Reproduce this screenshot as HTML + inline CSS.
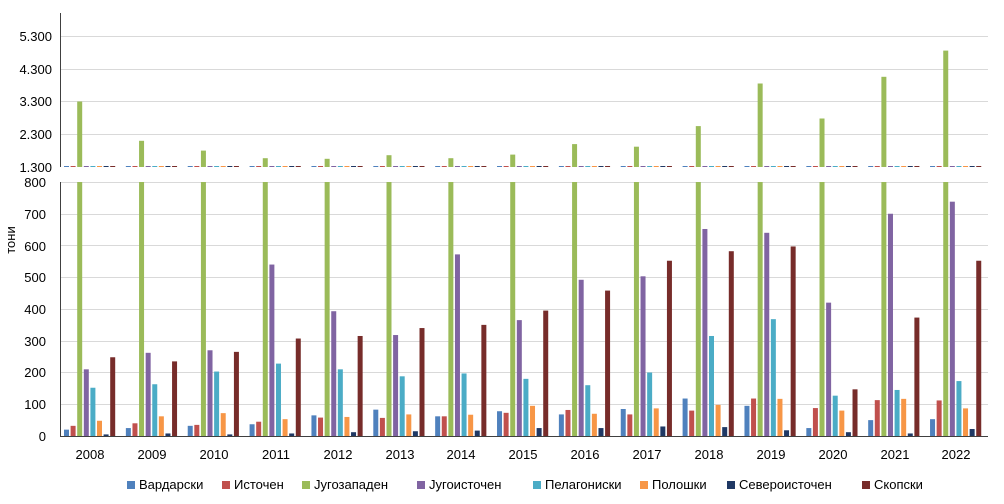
<!DOCTYPE html>
<html><head><meta charset="utf-8"><style>
body{margin:0;background:#fff;}
svg{display:block;font-family:"Liberation Sans","DejaVu Sans",sans-serif;}
.a{fill:#4f81bd}.b{fill:#c0504d}.c{fill:#9bbb59}.d{fill:#8064a2}.e{fill:#4bacc6}.f{fill:#f79646}.g{fill:#1f3864}.h{fill:#772c2a}
</style></head><body>
<svg width="1004" height="504" viewBox="0 0 1004 504">
<defs>
<g id="stub">
<rect x="0" y="166" width="5" height="1" class="a"/><rect x="6.6" y="166" width="5" height="1" class="b"/>
<rect x="19.8" y="166" width="5" height="1" class="d"/><rect x="26.4" y="166" width="5" height="1" class="e"/>
<rect x="33" y="166" width="5" height="1" class="f"/><rect x="39.6" y="166" width="5" height="1" class="g"/>
<rect x="46.2" y="166" width="5" height="1" class="h"/>
</g>
</defs>
<g stroke="#d9d9d9" stroke-width="1">
<line x1="61" x2="988" y1="36.5" y2="36.5"/><line x1="61" x2="988" y1="69.5" y2="69.5"/>
<line x1="61" x2="988" y1="101.5" y2="101.5"/><line x1="61" x2="988" y1="134.5" y2="134.5"/>
<line x1="61" x2="988" y1="404.5" y2="404.5"/><line x1="61" x2="988" y1="372.5" y2="372.5"/>
<line x1="61" x2="988" y1="341.5" y2="341.5"/><line x1="61" x2="988" y1="309.5" y2="309.5"/>
<line x1="61" x2="988" y1="277.5" y2="277.5"/><line x1="61" x2="988" y1="245.5" y2="245.5"/>
<line x1="61" x2="988" y1="214.5" y2="214.5"/><line x1="61" x2="988" y1="182.5" y2="182.5"/>
</g>

<use href="#stub" x="64"/><use href="#stub" x="125.86"/><use href="#stub" x="187.72"/><use href="#stub" x="249.58"/>
<use href="#stub" x="311.44"/><use href="#stub" x="373.3"/><use href="#stub" x="435.16"/><use href="#stub" x="497.02"/>
<use href="#stub" x="558.88"/><use href="#stub" x="620.74"/><use href="#stub" x="682.6"/><use href="#stub" x="744.46"/>
<use href="#stub" x="806.32"/><use href="#stub" x="868.18"/><use href="#stub" x="930.04"/>
<g class="c">
<rect x="77.2" y="101.5" width="5" height="65.5"/>
<rect x="139.06" y="140.8" width="5" height="26.2"/>
<rect x="200.92" y="150.6" width="5" height="16.4"/>
<rect x="262.78" y="158.2" width="5" height="8.8"/>
<rect x="324.64" y="158.8" width="5" height="8.2"/>
<rect x="386.5" y="155.2" width="5" height="11.8"/>
<rect x="448.36" y="158.2" width="5" height="8.8"/>
<rect x="510.22" y="154.6" width="5" height="12.4"/>
<rect x="572.08" y="144.1" width="5" height="22.9"/>
<rect x="633.94" y="146.7" width="5" height="20.3"/>
<rect x="695.8" y="126.1" width="5" height="40.9"/>
<rect x="757.66" y="83.5" width="5" height="83.5"/>
<rect x="819.52" y="118.5" width="5" height="48.5"/>
<rect x="881.38" y="76.8" width="5" height="90.2"/>
<rect x="943.24" y="50.6" width="5" height="116.4"/>
</g>

<g transform="translate(64,436) scale(1,-0.3175)"><rect x="0" width="5" height="20" class="a"/><rect x="6.6" width="5" height="32" class="b"/><rect x="13.2" width="5" height="800" class="c"/><rect x="19.8" width="5" height="210" class="d"/><rect x="26.4" width="5" height="152" class="e"/><rect x="33" width="5" height="48" class="f"/><rect x="39.6" width="5" height="5" class="g"/><rect x="46.2" width="5" height="248" class="h"/></g>
<g transform="translate(125.86,436) scale(1,-0.3175)"><rect x="0" width="5" height="25" class="a"/><rect x="6.6" width="5" height="40" class="b"/><rect x="13.2" width="5" height="800" class="c"/><rect x="19.8" width="5" height="262" class="d"/><rect x="26.4" width="5" height="163" class="e"/><rect x="33" width="5" height="62" class="f"/><rect x="39.6" width="5" height="8" class="g"/><rect x="46.2" width="5" height="235" class="h"/></g>
<g transform="translate(187.72,436) scale(1,-0.3175)"><rect x="0" width="5" height="32" class="a"/><rect x="6.6" width="5" height="35" class="b"/><rect x="13.2" width="5" height="800" class="c"/><rect x="19.8" width="5" height="270" class="d"/><rect x="26.4" width="5" height="203" class="e"/><rect x="33" width="5" height="72" class="f"/><rect x="39.6" width="5" height="5" class="g"/><rect x="46.2" width="5" height="265" class="h"/></g>
<g transform="translate(249.58,436) scale(1,-0.3175)"><rect x="0" width="5" height="37" class="a"/><rect x="6.6" width="5" height="45" class="b"/><rect x="13.2" width="5" height="800" class="c"/><rect x="19.8" width="5" height="540" class="d"/><rect x="26.4" width="5" height="228" class="e"/><rect x="33" width="5" height="53" class="f"/><rect x="39.6" width="5" height="8" class="g"/><rect x="46.2" width="5" height="307" class="h"/></g>
<g transform="translate(311.44,436) scale(1,-0.3175)"><rect x="0" width="5" height="65" class="a"/><rect x="6.6" width="5" height="58" class="b"/><rect x="13.2" width="5" height="800" class="c"/><rect x="19.8" width="5" height="393" class="d"/><rect x="26.4" width="5" height="210" class="e"/><rect x="33" width="5" height="60" class="f"/><rect x="39.6" width="5" height="12" class="g"/><rect x="46.2" width="5" height="315" class="h"/></g>
<g transform="translate(373.3,436) scale(1,-0.3175)"><rect x="0" width="5" height="83" class="a"/><rect x="6.6" width="5" height="57" class="b"/><rect x="13.2" width="5" height="800" class="c"/><rect x="19.8" width="5" height="318" class="d"/><rect x="26.4" width="5" height="188" class="e"/><rect x="33" width="5" height="68" class="f"/><rect x="39.6" width="5" height="15" class="g"/><rect x="46.2" width="5" height="340" class="h"/></g>
<g transform="translate(435.16,436) scale(1,-0.3175)"><rect x="0" width="5" height="62" class="a"/><rect x="6.6" width="5" height="62" class="b"/><rect x="13.2" width="5" height="800" class="c"/><rect x="19.8" width="5" height="572" class="d"/><rect x="26.4" width="5" height="197" class="e"/><rect x="33" width="5" height="67" class="f"/><rect x="39.6" width="5" height="17" class="g"/><rect x="46.2" width="5" height="350" class="h"/></g>
<g transform="translate(497.02,436) scale(1,-0.3175)"><rect x="0" width="5" height="78" class="a"/><rect x="6.6" width="5" height="73" class="b"/><rect x="13.2" width="5" height="800" class="c"/><rect x="19.8" width="5" height="365" class="d"/><rect x="26.4" width="5" height="180" class="e"/><rect x="33" width="5" height="95" class="f"/><rect x="39.6" width="5" height="25" class="g"/><rect x="46.2" width="5" height="395" class="h"/></g>
<g transform="translate(558.88,436) scale(1,-0.3175)"><rect x="0" width="5" height="68" class="a"/><rect x="6.6" width="5" height="82" class="b"/><rect x="13.2" width="5" height="800" class="c"/><rect x="19.8" width="5" height="492" class="d"/><rect x="26.4" width="5" height="160" class="e"/><rect x="33" width="5" height="70" class="f"/><rect x="39.6" width="5" height="25" class="g"/><rect x="46.2" width="5" height="458" class="h"/></g>
<g transform="translate(620.74,436) scale(1,-0.3175)"><rect x="0" width="5" height="85" class="a"/><rect x="6.6" width="5" height="68" class="b"/><rect x="13.2" width="5" height="800" class="c"/><rect x="19.8" width="5" height="503" class="d"/><rect x="26.4" width="5" height="200" class="e"/><rect x="33" width="5" height="87" class="f"/><rect x="39.6" width="5" height="30" class="g"/><rect x="46.2" width="5" height="552" class="h"/></g>
<g transform="translate(682.6,436) scale(1,-0.3175)"><rect x="0" width="5" height="118" class="a"/><rect x="6.6" width="5" height="80" class="b"/><rect x="13.2" width="5" height="800" class="c"/><rect x="19.8" width="5" height="652" class="d"/><rect x="26.4" width="5" height="315" class="e"/><rect x="33" width="5" height="98" class="f"/><rect x="39.6" width="5" height="28" class="g"/><rect x="46.2" width="5" height="582" class="h"/></g>
<g transform="translate(744.46,436) scale(1,-0.3175)"><rect x="0" width="5" height="95" class="a"/><rect x="6.6" width="5" height="118" class="b"/><rect x="13.2" width="5" height="800" class="c"/><rect x="19.8" width="5" height="640" class="d"/><rect x="26.4" width="5" height="368" class="e"/><rect x="33" width="5" height="117" class="f"/><rect x="39.6" width="5" height="18" class="g"/><rect x="46.2" width="5" height="597" class="h"/></g>
<g transform="translate(806.32,436) scale(1,-0.3175)"><rect x="0" width="5" height="25" class="a"/><rect x="6.6" width="5" height="88" class="b"/><rect x="13.2" width="5" height="800" class="c"/><rect x="19.8" width="5" height="420" class="d"/><rect x="26.4" width="5" height="127" class="e"/><rect x="33" width="5" height="80" class="f"/><rect x="39.6" width="5" height="12" class="g"/><rect x="46.2" width="5" height="147" class="h"/></g>
<g transform="translate(868.18,436) scale(1,-0.3175)"><rect x="0" width="5" height="50" class="a"/><rect x="6.6" width="5" height="113" class="b"/><rect x="13.2" width="5" height="800" class="c"/><rect x="19.8" width="5" height="700" class="d"/><rect x="26.4" width="5" height="145" class="e"/><rect x="33" width="5" height="117" class="f"/><rect x="39.6" width="5" height="8" class="g"/><rect x="46.2" width="5" height="373" class="h"/></g>
<g transform="translate(930.04,436) scale(1,-0.3175)"><rect x="0" width="5" height="53" class="a"/><rect x="6.6" width="5" height="112" class="b"/><rect x="13.2" width="5" height="800" class="c"/><rect x="19.8" width="5" height="738" class="d"/><rect x="26.4" width="5" height="173" class="e"/><rect x="33" width="5" height="87" class="f"/><rect x="39.6" width="5" height="22" class="g"/><rect x="46.2" width="5" height="552" class="h"/></g>

<line x1="60.5" y1="13" x2="60.5" y2="167" stroke="#404040"/>
<line x1="60.5" y1="182" x2="60.5" y2="436" stroke="#404040"/>
<line x1="60" y1="436.5" x2="988" y2="436.5" stroke="#404040"/>
<g font-size="13" fill="#000" text-anchor="end">
<text x="52" y="41">5.300</text><text x="52" y="74">4.300</text><text x="52" y="106">3.300</text>
<text x="52" y="139">2.300</text><text x="52" y="172">1.300</text>
<text x="46" y="187">800</text><text x="46" y="219">700</text><text x="46" y="251">600</text>
<text x="46" y="282">500</text><text x="46" y="314">400</text><text x="46" y="346">300</text>
<text x="46" y="377">200</text><text x="46" y="409">100</text><text x="46" y="441">0</text>
</g>
<text x="15" y="240" font-size="13" transform="rotate(-90 15 240)" text-anchor="middle">тони</text>
<g font-size="13" text-anchor="middle">
<text x="90" y="459">2008</text><text x="152" y="459">2009</text><text x="214" y="459">2010</text>
<text x="276" y="459">2011</text><text x="338" y="459">2012</text><text x="400" y="459">2013</text>
<text x="461" y="459">2014</text><text x="523" y="459">2015</text><text x="585" y="459">2016</text>
<text x="647" y="459">2017</text><text x="709" y="459">2018</text><text x="771" y="459">2019</text>
<text x="833" y="459">2020</text><text x="895" y="459">2021</text><text x="956" y="459">2022</text>
</g>
<g font-size="13">
<rect x="127" y="481" width="8" height="8" class="a"/><text x="139" y="489">Вардарски</text>
<rect x="222" y="481" width="8" height="8" class="b"/><text x="234" y="489">Источен</text>
<rect x="302" y="481" width="8" height="8" class="c"/><text x="314" y="489">Југозападен</text>
<rect x="417" y="481" width="8" height="8" class="d"/><text x="429" y="489">Југоисточен</text>
<rect x="533" y="481" width="8" height="8" class="e"/><text x="545" y="489">Пелагониски</text>
<rect x="640" y="481" width="8" height="8" class="f"/><text x="652" y="489">Полошки</text>
<rect x="727" y="481" width="8" height="8" class="g"/><text x="739" y="489">Североисточен</text>
<rect x="862" y="481" width="8" height="8" class="h"/><text x="874" y="489">Скопски</text>
</g>
</svg>
</body></html>
